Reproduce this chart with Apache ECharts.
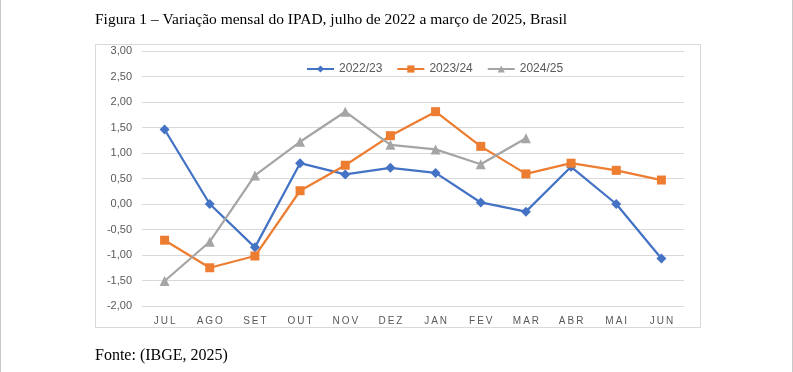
<!DOCTYPE html>
<html><head><meta charset="utf-8">
<script src="https://cdn.jsdelivr.net/npm/echarts@6/dist/echarts.min.js"></script>
<style>html,body{margin:0;padding:0;background:#fff}#c{width:793px;height:372px}</style>
</head><body><div id="c"></div>
<script>
const months = ['JUL','AGO','SET','OUT','NOV','DEZ','JAN','FEV','MAR','ABR','MAI','JUN'];
const s2022_23 = [1.46, 0.00, -0.85, 0.80, 0.58, 0.71, 0.61, 0.03, -0.15, 0.73, 0.00, -1.07];
const s2023_24 = [-0.71, -1.25, -1.02, 0.26, 0.76, 1.34, 1.81, 1.13, 0.59, 0.80, 0.66, 0.47];
const s2024_25 = [-1.51, -0.74, 0.56, 1.22, 1.81, 1.16, 1.07, 0.78, 1.29];
const yTicks = [-2, -1.5, -1, -0.5, 0, 0.5, 1, 1.5, 2, 2.5, 3];
const titleText = 'Figura 1 – Variação mensal do IPAD, julho de 2022 a março de 2025, Brasil';
const sourceText = 'Fonte: (IBGE, 2025)';

const chart = echarts.init(document.getElementById('c'), null, {renderer:'canvas'});
const lab = {fontFamily:'Liberation Sans, Arial, sans-serif', fontSize:11, color:'#595959'};
function mkSeries(name, data, color, symbol, size){
  return {name, type:'line', data, symbol, symbolSize:size, showSymbol:true,
    lineStyle:{color, width:2.25}, itemStyle:{color}, emphasis:{disabled:true}, animation:false};
}
chart.setOption({
  animation:false,
  graphic:[
    {type:'line', shape:{x1:0.5,y1:0,x2:0.5,y2:372}, style:{stroke:'#c8c8c8', lineWidth:1}},
    {type:'line', shape:{x1:792.5,y1:0,x2:792.5,y2:372}, style:{stroke:'#c8c8c8', lineWidth:1}},
    {type:'rect', shape:{x:95.5,y:44.5,width:605,height:283}, style:{fill:'none', stroke:'#d9d9d9', lineWidth:1}, z:-1},
    {type:'text', left:95, top:12, style:{text:titleText, font:'15.5px "Liberation Serif", "Times New Roman", serif', fill:'#000'}},
    {type:'text', left:95, top:348, style:{text:sourceText, font:'16px "Liberation Serif", "Times New Roman", serif', fill:'#000'}}
  ],
  legend:{left:301, top:58, itemWidth:27, itemHeight:9, itemGap:14,
    textStyle:{fontFamily:'Liberation Sans, Arial, sans-serif', fontSize:12, color:'#595959'},
    data:['2022/23','2023/24','2024/25']},
  grid:{left:142, right:109, top:51, bottom:66},
  xAxis:{type:'category', data:months, boundaryGap:true,
    axisLine:{lineStyle:{color:'#d9d9d9'}}, axisTick:{show:false},
    axisLabel:Object.assign({}, lab, {fontSize:10, margin:10, formatter:v=>v.split('').join('\u2009')}) },
  yAxis:{type:'value', min:-2, max:3, interval:0.5,
    axisLine:{show:false}, axisTick:{show:false},
    splitLine:{lineStyle:{color:'#d9d9d9'}},
    axisLabel:Object.assign({}, lab, {margin:10, formatter:v=>v.toFixed(2).replace('.',',')}) },
  series:[
    mkSeries('2022/23', s2022_23, '#4472C4', 'diamond', 10),
    mkSeries('2023/24', s2023_24, '#ED7D31', 'rect', 9),
    mkSeries('2024/25', s2024_25, '#A5A5A5', 'triangle', 10)
  ]
});
</script></body></html>
